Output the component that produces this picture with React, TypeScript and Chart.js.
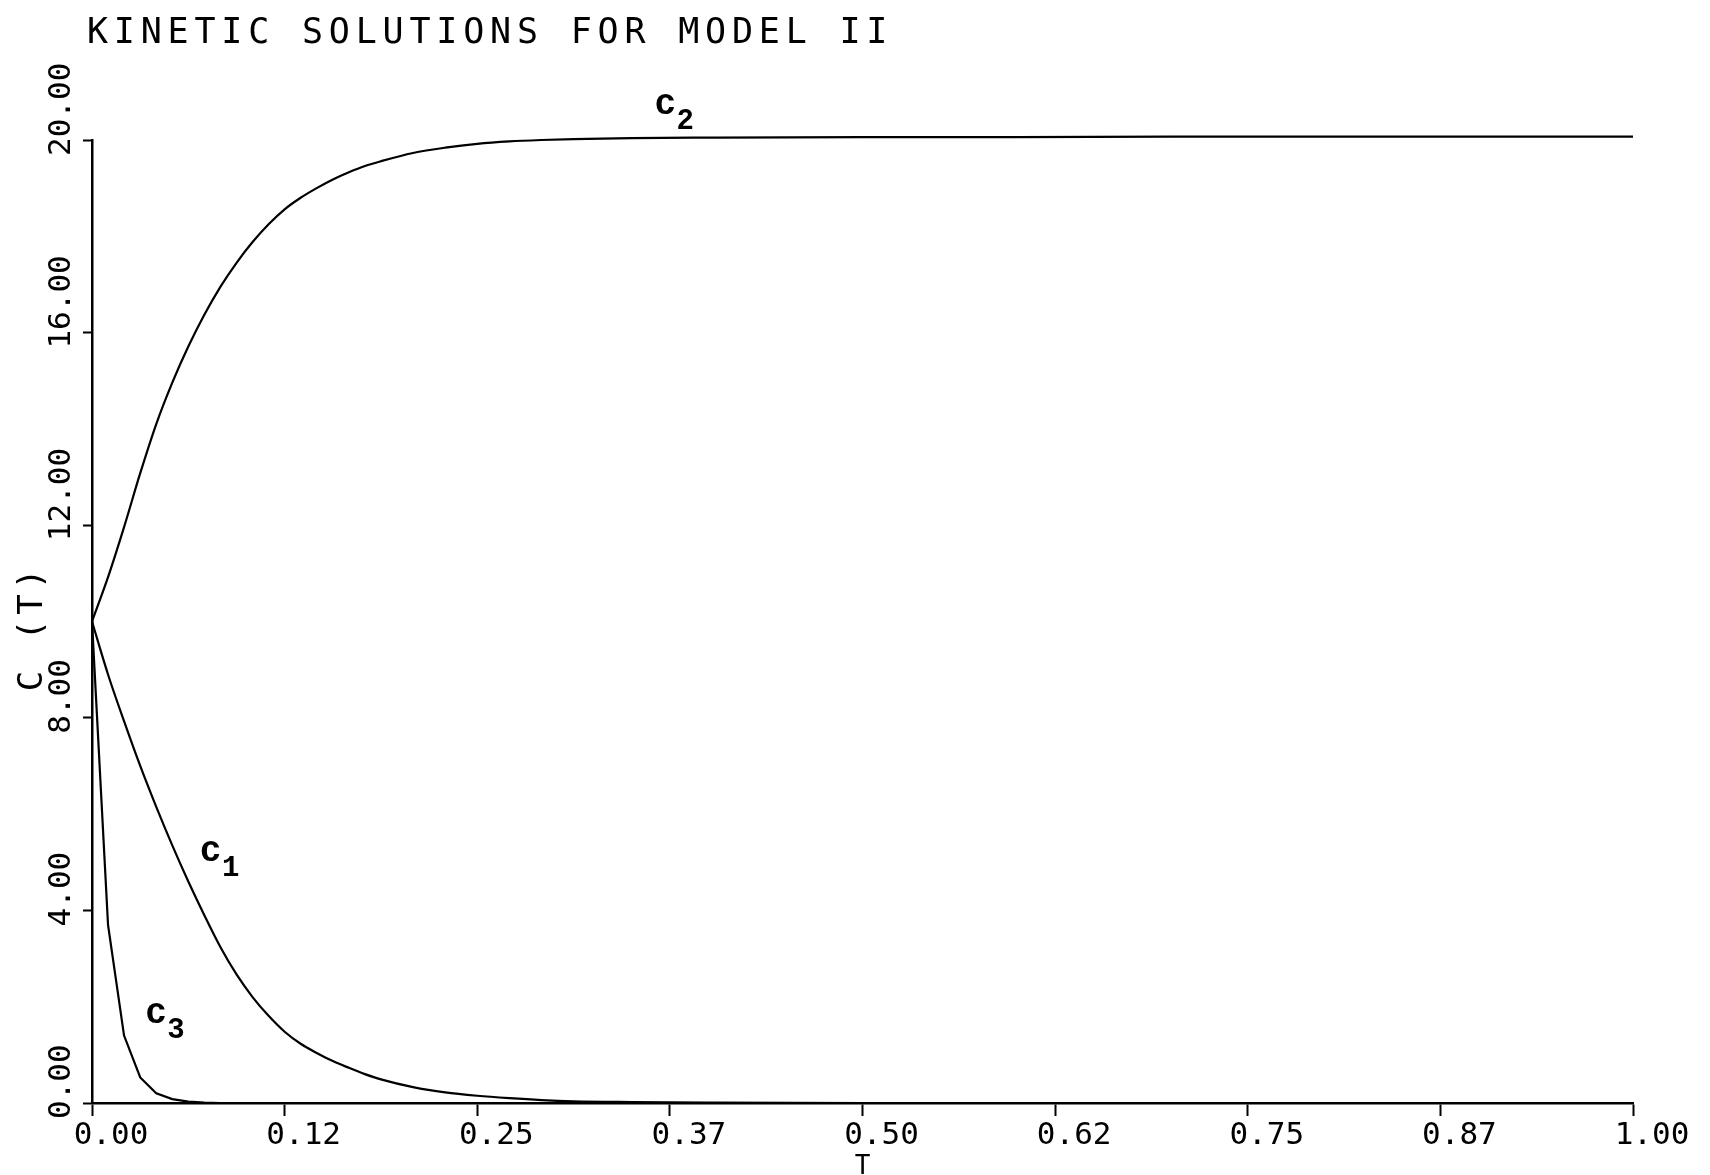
import React, { useEffect, useRef } from "react";
import { Chart, registerables } from "chart.js";

Chart.register(...registerables);

const TITLE = "KINETIC SOLUTIONS FOR MODEL II";
const X_TITLE = "T";
const Y_TITLE = "C (T)";

const T_VALUES = [
  0, 0.0104, 0.0208, 0.0313, 0.0417, 0.0521, 0.0625, 0.0729, 0.0833, 0.0938,
  0.1042, 0.1146, 0.125, 0.1354, 0.1458, 0.1563, 0.1667, 0.1771, 0.1875, 0.2083,
  0.2292, 0.25, 0.2708, 0.2917, 0.3125, 0.35, 0.4, 0.5, 0.6, 0.7, 0.8, 0.9, 1.0,
];

const C1 = [
  10, 8.9, 7.93, 7.0, 6.15, 5.35, 4.6, 3.9, 3.24, 2.67,
  2.2, 1.81, 1.48, 1.23, 1.04, 0.87, 0.73, 0.6, 0.49, 0.33,
  0.22, 0.15, 0.1, 0.06, 0.035, 0.02, 0.01, 0, 0, 0, 0, 0, 0,
];

const C2 = [
  10, 10.92, 11.96, 13.08, 14.1, 14.96, 15.71, 16.37, 16.95, 17.45,
  17.88, 18.25, 18.56, 18.8, 19.0, 19.18, 19.33, 19.46, 19.56, 19.73,
  19.84, 19.92, 19.97, 20.0, 20.02, 20.04, 20.05, 20.06, 20.06, 20.07, 20.07, 20.07, 20.07,
];

const C3 = [
  10, 3.7, 1.4, 0.53, 0.2, 0.08, 0.03, 0.01, 0, 0,
  0, 0, 0, 0, 0, 0, 0, 0, 0, 0,
  0, 0, 0, 0, 0, 0, 0, 0, 0, 0, 0, 0, 0,
];

const X_TICKS = [0, 0.125, 0.25, 0.375, 0.5, 0.625, 0.75, 0.875, 1.0];
const X_TICK_LABELS = ["0.00", "0.12", "0.25", "0.37", "0.50", "0.62", "0.75", "0.87", "1.00"];
const Y_TICKS = [0, 4, 8, 12, 16, 20];
const Y_TICK_LABELS = ["0.00", "4.00", "8.00", "12.00", "16.00", "20.00"];

const CURVE_NAMES = ["c", "c", "c"];
const CURVE_SUBS = ["1", "2", "3"];
const LABEL_T = [0.077, 0.372, 0.0415];
const LABEL_C = [5.17, 20.69, 1.81];

const MONO = '"DejaVu Sans Mono", monospace';

const textPlugin = {
  id: "plotText",
  afterDraw(chart: any) {
    const ctx = chart.ctx as CanvasRenderingContext2D & { letterSpacing?: string };
    const xs = chart.scales.x;
    const ys = chart.scales.y;
    ctx.save();
    ctx.fillStyle = "#000";

    // main title
    ctx.font = `35px ${MONO}`;
    ctx.textAlign = "left";
    ctx.textBaseline = "alphabetic";
    if ("letterSpacing" in ctx) ctx.letterSpacing = "5.8px";
    ctx.fillText(TITLE, 87, 43);
    if ("letterSpacing" in ctx) ctx.letterSpacing = "0px";

    // y axis title
    ctx.save();
    ctx.translate(33, (ys.top + ys.bottom) / 2 + 6);
    ctx.rotate(-Math.PI / 2);
    ctx.font = `34px ${MONO}`;
    ctx.textAlign = "center";
    ctx.textBaseline = "middle";
    if ("letterSpacing" in ctx) ctx.letterSpacing = "5px";
    ctx.fillText(Y_TITLE, 0, 0);
    if ("letterSpacing" in ctx) ctx.letterSpacing = "0px";
    ctx.restore();

    // curve labels
    for (let i = 0; i < CURVE_NAMES.length; i++) {
      const px = xs.getPixelForValue(LABEL_T[i]);
      const py = ys.getPixelForValue(LABEL_C[i]);
      ctx.textAlign = "center";
      ctx.textBaseline = "middle";
      ctx.font = `bold 36px "Liberation Mono", monospace`;
      ctx.fillText(CURVE_NAMES[i], px, py - 2);
      ctx.font = `bold 29px "Liberation Mono", monospace`;
      ctx.fillText(CURVE_SUBS[i], px + 20, py + 15);
    }
    ctx.restore();
  },
};

function makeData(values: number[]) {
  return T_VALUES.map((t, i) => ({ x: t, y: values[i] }));
}

export default function App() {
  const canvasRef = useRef<HTMLCanvasElement | null>(null);

  useEffect(() => {
    const canvas = canvasRef.current;
    if (!canvas) return;
    const common = {
      borderColor: "#000",
      borderWidth: 2.2,
      pointRadius: 0,
      fill: false,
      clip: false as any,
    };
    const chart = new Chart(canvas, {
      type: "line",
      data: {
        datasets: [
          { label: "c1", data: makeData(C1), ...common, cubicInterpolationMode: "monotone" },
          { label: "c2", data: makeData(C2), ...common, cubicInterpolationMode: "monotone" },
          { label: "c3", data: makeData(C3), ...common, tension: 0 },
        ],
      },
      options: {
        animation: false,
        responsive: false,
        devicePixelRatio: 1,
        layout: { padding: { left: 62, top: 140, right: 77, bottom: 0 } },
        plugins: {
          legend: { display: false },
          tooltip: { enabled: false },
          title: { display: false },
        },
        scales: {
          x: {
            type: "linear",
            min: 0,
            max: 1,
            afterBuildTicks: (s: any) => {
              s.ticks = X_TICKS.map((v) => ({ value: v }));
            },
            afterFit: (s: any) => {
              s.height = 72;
            },
            grid: {
              drawOnChartArea: false,
              drawTicks: true,
              tickLength: 13,
              tickWidth: 2,
              tickColor: "#000",
            },
            border: { display: true, color: "#000", width: 2.5 },
            ticks: {
              autoSkip: false,
              minRotation: 0,
              maxRotation: 0,
              labelOffset: 19,
              padding: 1,
              color: "#000",
              font: { family: MONO, size: 31 },
              callback: (value: any) => {
                const i = X_TICKS.indexOf(Number(value));
                return i >= 0 ? X_TICK_LABELS[i] : "";
              },
            },
            title: {
              display: true,
              text: X_TITLE,
              color: "#000",
              font: { family: MONO, size: 26 },
              padding: { top: 0, bottom: -8 },
            },
          },
          y: {
            type: "linear",
            min: 0,
            max: 20,
            afterBuildTicks: (s: any) => {
              s.ticks = Y_TICKS.map((v) => ({ value: v }));
            },
            afterFit: (s: any) => {
              s.width = 30;
            },
            grid: {
              drawOnChartArea: false,
              drawTicks: true,
              tickLength: 9,
              tickWidth: 2,
              tickColor: "#000",
            },
            border: { display: true, color: "#000", width: 2.5 },
            ticks: {
              autoSkip: false,
              mirror: true,
              minRotation: 90,
              maxRotation: 90,
              crossAlign: "near",
              labelOffset: 16,
              padding: -30,
              color: "#000",
              font: { family: MONO, size: 31 },
              callback: (value: any) => {
                const i = Y_TICKS.indexOf(Number(value));
                return i >= 0 ? Y_TICK_LABELS[i] : "";
              },
            },
          },
        },
      } as any,
      plugins: [textPlugin],
    });
    return () => chart.destroy();
  }, []);

  return (
    <div style={{ position: "absolute", left: 0, top: 0, width: 1710, height: 1175, background: "#fff" }}>
      <canvas ref={canvasRef} width={1710} height={1175} style={{ display: "block" }} />
    </div>
  );
}
